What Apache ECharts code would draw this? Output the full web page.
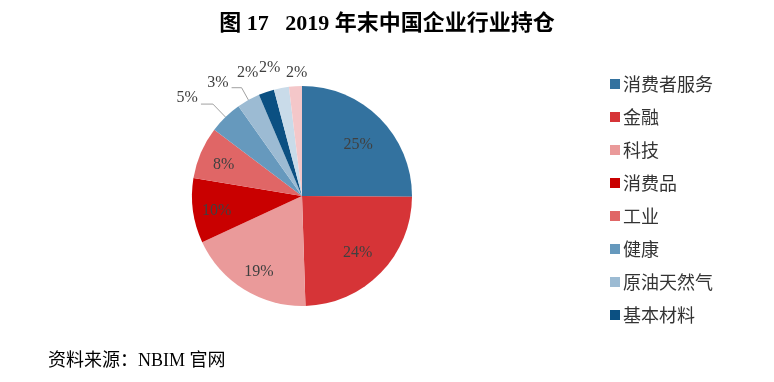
<!DOCTYPE html>
<html>
<head>
<meta charset="utf-8">
<script src="https://cdn.jsdelivr.net/npm/echarts@6/dist/echarts.min.js"></script>
<style>html,body{margin:0;padding:0;background:#fff}#c{width:774px;height:382px}</style>
</head>
<body>
<div id="c"></div>
<script>
const categories = ['消费者服务','金融','科技','消费品','工业','健康','原油天然气','基本材料','电信','公用事业'];
const values = [25.1, 24.4, 18.6, 9.5, 7.7, 4.9, 3.4, 2.3, 2.2, 1.9];
const legendNames = ['消费者服务','金融','科技','消费品','工业','健康','原油天然气','基本材料'];
const colors = ['#33729F','#D63437','#EA9A9A','#C90000','#E06666','#6699BD','#9CBBD3','#0B5082','#C9DBE9','#F4C7C9'];

const CX = 302, CY = 196, R = 110;
const insideCount = 5;
const serifFont = '"Liberation Serif", "Noto Sans CJK SC", serif';

// styling for the small outside labels (line lengths and nudges)
const outsideStyle = {
  5: { line: true, length: 18, length2: 12, dx: 0, dy: -6 },
  6: { line: true, length: 14, length2: 10, dx: 0, dy: -5 },
  7: { line: false, length: 0, length2: 0, dx: -5, dy: -19 },
  8: { line: false, length: 0, length2: 0, dx: 2, dy: -20 },
  9: { line: false, length: 0, length2: 0, dx: 15, dy: -13 }
};
// small nudges for the inside labels
const insideNudge = {
  0: { dx: -2, dy: 7 },
  1: { dx: -3, dy: 0 },
  2: { dx: 0, dy: 6 },
  3: { dx: -4, dy: 4 },
  4: { dx: -3, dy: 1 }
};

const mainData = categories.map((n, i) => {
  const item = { name: n, value: values[i], itemStyle: { color: colors[i] } };
  if (i < insideCount) {
    item.label = { show: false };
    item.labelLine = { show: false };
  } else {
    const s = outsideStyle[i];
    item.labelLine = { show: s.line, length: s.length, length2: s.length2 };
  }
  return item;
});
const overlayData = categories.map((n, i) => ({
  name: n, value: values[i],
  label: { show: i < insideCount }
}));

const chart = echarts.init(document.getElementById('c'));
chart.setOption({
  backgroundColor: '#fff',
  animation: false,
  title: [
    { text: '图 17   2019 年末中国企业行业持仓', left: 'center', top: 8,
      textStyle: { fontSize: 22, fontWeight: 'bold', color: '#000', fontFamily: serifFont } },
    { text: '资料来源：NBIM 官网', left: 43, top: 347,
      textStyle: { fontSize: 18, fontWeight: 'normal', color: '#000', fontFamily: serifFont } }
  ],
  legend: {
    orient: 'vertical', left: 605, top: 70,
    data: legendNames,
    itemWidth: 10, itemHeight: 10, itemGap: 15,
    icon: 'rect',
    textStyle: { fontSize: 18, color: '#333', fontFamily: '"Noto Sans CJK SC", sans-serif', padding: [0,0,0,-2] }
  },
  series: [
    {
      type: 'pie', center: [CX, CY], radius: [0, R], startAngle: 90, clockwise: true,
      avoidLabelOverlap: false,
      data: mainData,
      label: {
        position: 'outside', fontSize: 16, color: '#404040', fontFamily: serifFont,
        distanceToLabelLine: 3,
        formatter: p => Math.round(p.value) + '%'
      },
      labelLine: { lineStyle: { color: '#A0A0A0', width: 1 } },
      labelLayout: function (p) {
        const s = outsideStyle[p.dataIndex];
        return s ? { dx: s.dx, dy: s.dy } : {};
      },
      emphasis: { disabled: true }
    },
    {
      type: 'pie', center: [CX, CY], radius: [48, R], startAngle: 90, clockwise: true,
      silent: true,
      avoidLabelOverlap: false,
      data: overlayData,
      itemStyle: { color: 'transparent', borderWidth: 0 },
      label: {
        position: 'inside', fontSize: 16, color: '#404040', fontFamily: serifFont,
        formatter: p => Math.round(p.value) + '%'
      },
      labelLine: { show: false },
      labelLayout: function (p) {
        const s = insideNudge[p.dataIndex];
        return s ? { dx: s.dx, dy: s.dy } : {};
      },
      emphasis: { disabled: true }
    }
  ]
});
</script>
</body>
</html>
